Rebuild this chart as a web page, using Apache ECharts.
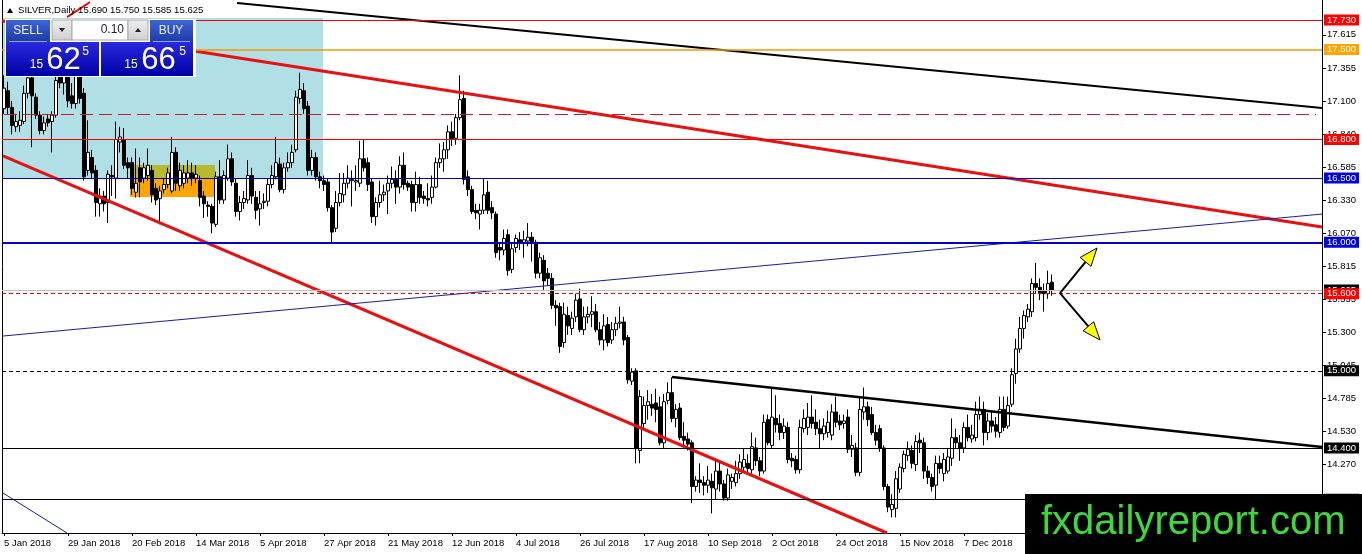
<!DOCTYPE html>
<html>
<head>
<meta charset="utf-8">
<script src="https://cdn.jsdelivr.net/npm/echarts@6/dist/echarts.min.js"></script>
<style>html,body{margin:0;padding:0;background:#fff;}#c{width:1362px;height:554px;}</style>
</head>
<body>
<div id="c"></div>
<script>
// ---------- DATA ----------
const startDate = [2018, 0, 5];
const slotCount = 330;
// daily bars: [open, high, low, close]
const ohlc = [
[17.04,17.30,17.00,17.20],[17.18,17.25,17.00,17.05],[17.05,17.10,16.84,16.91],[16.90,17.00,16.86,16.94],[16.91,17.02,16.86,16.95],
[16.94,17.22,16.92,17.16],[17.16,17.40,17.12,17.28],[17.28,17.38,16.74,17.14],[17.13,17.16,16.96,16.99],[16.99,17.02,16.84,16.87],
[16.87,16.98,16.84,16.93],[16.96,17.00,16.90,16.93],[16.94,17.02,16.70,16.99],[16.99,17.32,16.97,17.26],[17.50,17.72,17.20,17.24],
[17.24,17.48,17.15,17.40],[17.40,17.45,17.05,17.10],[17.14,17.24,17.04,17.08],[17.08,17.38,17.04,17.30],[17.30,17.35,17.08,17.12],
[17.16,17.20,16.48,16.51],[16.56,16.95,16.52,16.70],[16.66,16.72,16.50,16.54],[16.56,16.60,16.20,16.31],[16.30,16.42,16.20,16.36],
[16.36,16.40,16.24,16.30],[16.31,16.56,16.15,16.53],[16.52,16.60,16.36,16.51],[16.50,16.94,16.34,16.80],[16.78,16.90,16.70,16.82],
[16.80,16.89,16.57,16.60],[16.62,16.66,16.50,16.58],[16.62,16.66,16.37,16.42],[16.39,16.73,16.35,16.46],[16.58,16.66,16.35,16.47],
[16.50,16.62,16.46,16.58],[16.52,16.73,16.48,16.60],[16.56,16.60,16.31,16.37],[16.42,16.46,16.29,16.33],[16.34,16.44,16.14,16.40],
[16.41,16.50,16.38,16.45],[16.45,16.58,16.42,16.54],[16.40,16.82,16.38,16.70],[16.70,16.74,16.40,16.46],[16.44,16.62,16.40,16.56],
[16.46,16.60,16.42,16.54],[16.50,16.64,16.46,16.54],[16.54,16.62,16.44,16.50],[16.50,16.60,16.46,16.53],[16.48,16.52,16.28,16.35],
[16.36,16.40,16.19,16.30],[16.29,16.32,16.20,16.28],[16.28,16.30,16.07,16.15],[16.14,16.55,16.12,16.51],[16.51,16.64,16.30,16.33],
[16.33,16.56,16.30,16.52],[16.50,16.76,16.48,16.65],[16.65,16.70,16.44,16.47],[16.46,16.50,16.20,16.24],[16.24,16.36,16.17,16.31],
[16.31,16.40,16.26,16.34],[16.33,16.64,16.30,16.52],[16.52,16.58,16.30,16.36],[16.35,16.40,16.18,16.25],[16.26,16.40,16.13,16.30],
[16.31,16.38,16.26,16.32],[16.32,16.50,16.28,16.45],[16.45,16.60,16.42,16.52],[16.51,16.82,16.49,16.62],[16.61,16.66,16.39,16.41],
[16.41,16.62,16.38,16.58],[16.58,16.70,16.55,16.62],[16.62,16.76,16.58,16.70],[16.72,17.18,16.70,17.13],[17.12,17.32,17.08,17.19],
[17.18,17.24,17.00,17.04],[17.06,17.10,16.52,16.56],[16.56,16.72,16.52,16.66],[16.66,16.70,16.48,16.51],[16.51,16.55,16.42,16.48],
[16.48,16.52,16.40,16.45],[16.47,16.50,16.24,16.27],[16.27,16.29,16.00,16.08],[16.11,16.40,16.08,16.31],[16.31,16.54,16.28,16.38],
[16.37,16.54,16.31,16.46],[16.46,16.60,16.42,16.50],[16.48,16.56,16.28,16.49],[16.47,16.60,16.40,16.48],[16.46,16.79,16.43,16.65],
[16.65,16.80,16.55,16.58],[16.62,16.66,16.40,16.45],[16.47,16.50,16.15,16.20],[16.20,16.35,16.13,16.31],[16.31,16.48,16.27,16.37],
[16.37,16.45,16.32,16.39],[16.40,16.52,16.22,16.46],[16.46,16.59,16.42,16.49],[16.49,16.56,16.30,16.43],[16.43,16.67,16.38,16.60],
[16.60,16.70,16.41,16.45],[16.46,16.48,16.40,16.43],[16.45,16.48,16.24,16.31],[16.31,16.55,16.24,16.45],[16.45,16.51,16.30,16.35],
[16.36,16.40,16.30,16.34],[16.34,16.46,16.28,16.33],[16.35,16.52,16.30,16.43],[16.43,16.66,16.42,16.62],[16.62,16.77,16.58,16.65],
[16.65,16.78,16.55,16.72],[16.72,16.91,16.65,16.86],[16.86,16.94,16.75,16.80],[16.81,17.00,16.76,16.97],[16.97,17.30,16.95,17.11],
[17.12,17.18,16.45,16.49],[16.51,16.56,16.36,16.41],[16.41,16.44,16.22,16.24],[16.25,16.30,16.18,16.23],[16.22,16.30,16.10,16.25],
[16.25,16.50,16.22,16.37],[16.39,16.48,16.22,16.25],[16.27,16.32,16.18,16.23],[16.22,16.24,15.88,15.92],[15.96,16.00,15.86,15.94],
[15.94,16.10,15.90,16.03],[16.06,16.10,15.74,15.78],[15.79,16.00,15.76,15.95],[15.96,16.06,15.92,16.03],[16.02,16.08,15.94,16.00],
[16.00,16.09,15.88,16.02],[16.01,16.15,15.97,16.04],[16.04,16.08,15.85,16.00],[16.00,16.02,15.72,15.76],[15.76,15.92,15.72,15.88],
[15.86,15.90,15.63,15.70],[15.76,15.80,15.66,15.72],[15.72,15.76,15.48,15.51],[15.51,15.55,15.35,15.49],[15.50,15.53,15.14,15.19],
[15.22,15.53,15.18,15.44],[15.43,15.50,15.28,15.35],[15.33,15.46,15.28,15.41],[15.42,15.60,15.38,15.55],[15.56,15.64,15.30,15.32],
[15.32,15.50,15.28,15.42],[15.42,15.50,15.37,15.44],[15.44,15.58,15.34,15.46],[15.46,15.52,15.30,15.32],[15.32,15.38,15.20,15.24],
[15.24,15.44,15.16,15.35],[15.36,15.42,15.19,15.22],[15.24,15.38,15.21,15.32],[15.32,15.42,15.27,15.37],[15.37,15.50,15.33,15.38],
[15.38,15.42,15.20,15.24],[15.26,15.28,14.90,14.93],[14.92,15.02,14.89,14.99],[15.00,15.02,14.28,14.40],[14.38,14.85,14.28,14.80],
[14.59,14.80,14.55,14.73],[14.73,14.85,14.62,14.76],[14.74,14.82,14.65,14.71],[14.75,14.86,14.60,14.70],[14.72,14.80,14.42,14.44],
[14.44,14.82,14.40,14.76],[14.77,14.91,14.74,14.83],[14.83,14.95,14.60,14.63],[14.63,14.74,14.56,14.70],[14.71,14.75,14.46,14.48],
[14.49,14.60,14.42,14.46],[14.47,14.52,14.38,14.43],[14.44,14.46,13.97,14.10],[14.10,14.18,14.06,14.15],[14.15,14.28,14.05,14.13],
[14.13,14.18,14.03,14.11],[14.11,14.26,14.05,14.15],[14.14,14.20,13.89,14.09],[14.08,14.32,14.00,14.22],[14.22,14.30,14.06,14.12],
[14.12,14.15,13.99,14.01],[14.01,14.24,13.99,14.19],[14.14,14.20,14.08,14.17],[14.13,14.30,14.10,14.20],[14.20,14.35,14.16,14.29],
[14.25,14.40,14.22,14.31],[14.28,14.35,14.20,14.24],[14.23,14.52,14.20,14.41],[14.40,14.48,14.26,14.30],[14.30,14.33,14.18,14.22],
[14.22,14.66,14.20,14.60],[14.62,14.66,14.42,14.44],[14.42,14.87,14.40,14.64],[14.63,14.81,14.52,14.58],[14.59,14.66,14.46,14.52],
[14.52,14.63,14.47,14.57],[14.56,14.60,14.28,14.31],[14.32,14.36,14.25,14.30],[14.31,14.34,14.20,14.23],[14.23,14.62,14.20,14.56],
[14.55,14.70,14.52,14.63],[14.56,14.75,14.50,14.64],[14.64,14.81,14.55,14.59],[14.60,14.70,14.50,14.55],[14.55,14.62,14.40,14.51],
[14.51,14.63,14.46,14.57],[14.52,14.69,14.48,14.60],[14.50,14.74,14.46,14.68],[14.68,14.80,14.56,14.60],[14.61,14.66,14.54,14.58],
[14.59,14.66,14.55,14.61],[14.64,14.70,14.36,14.39],[14.39,14.50,14.33,14.42],[14.40,14.44,14.18,14.21],[14.21,14.80,14.18,14.70],
[14.68,14.87,14.62,14.72],[14.72,14.76,14.57,14.62],[14.66,14.72,14.50,14.52],[14.52,14.58,14.42,14.46],[14.55,14.58,14.37,14.40],
[14.40,14.42,14.07,14.10],[14.10,14.12,13.90,13.94],[13.92,14.04,13.86,13.96],[13.93,14.22,13.86,14.16],[14.08,14.28,14.05,14.25],
[14.24,14.38,14.21,14.35],[14.34,14.45,14.30,14.39],[14.38,14.42,14.24,14.28],[14.27,14.50,14.22,14.45],[14.46,14.52,14.36,14.44],
[14.44,14.48,14.16,14.22],[14.22,14.26,14.12,14.17],[14.17,14.20,14.06,14.10],[14.11,14.34,14.00,14.28],[14.28,14.34,14.20,14.24],
[14.20,14.36,14.14,14.31],[14.22,14.40,14.20,14.33],[14.32,14.63,14.26,14.48],[14.48,14.55,14.40,14.44],[14.44,14.50,14.30,14.40],
[14.40,14.60,14.36,14.56],[14.56,14.66,14.45,14.48],[14.47,14.58,14.44,14.50],[14.48,14.76,14.45,14.66],[14.66,14.80,14.62,14.70],
[14.70,14.76,14.42,14.52],[14.52,14.67,14.46,14.61],[14.61,14.68,14.52,14.57],[14.58,14.64,14.48,14.53],[14.52,14.80,14.48,14.70],
[14.70,14.80,14.53,14.56],[14.57,14.80,14.55,14.73],[14.74,15.02,14.72,14.97],[14.98,15.25,14.90,15.17],[15.17,15.42,15.14,15.33],
[15.33,15.47,15.25,15.43],[15.42,15.52,15.38,15.48],[15.46,15.72,15.42,15.68],[15.68,15.84,15.60,15.65],[15.65,15.72,15.55,15.60],
[15.62,15.68,15.46,15.60],[15.60,15.78,15.56,15.68],[15.69,15.75,15.585,15.625]
];
const yTicks = [14.015, 14.270, 14.530, 14.785, 15.045, 15.300, 15.555, 15.815, 16.070, 16.330, 16.585, 16.840, 17.100, 17.355, 17.615];
const yMin = 13.738, yMax = 17.886;
// horizontal levels
const levelPrices = [17.730, 17.500, 16.800, 16.500, 16.000, 15.600, 15.000, 14.400, 14.000];
const dashedLevel = 17.000;
const askPrice = 15.665;
// trend lines [[barIndex, price], [barIndex, price]]
const topBlackLine   = [[58.25, 17.862], [329.5, 17.045]];
const upperRedLine   = [[-0.5, 17.722], [329.5, 16.119]];
const lowerRedLine   = [[-0.25, 16.672], [220.75, 13.738]];
const headerRedLine  = [[15.75, 17.753], [21.5, 17.870]];
const blueRisingLine = [[-0.25, 15.271], [329.5, 16.220]];
const blueCornerLine = [[-0.25, 14.049], [15.75, 13.738]];
const triangleTopLine= [[167, 14.952], [329.5, 14.407]];
// rectangles [x0, priceTop, x1, priceBottom]
const zones = [[-0.25, 17.746, 79.75, 16.500], [31.5, 16.602, 52.75, 16.353], [31.5, 16.602, 52.75, 16.500]];
// arrows [x0, p0, x1, p1]
const arrows = [[264, 15.605, 273.25, 15.956], [264, 15.605, 274, 15.240]];

// ---------- BUILD ----------
const MONTHS = ['Jan','Feb','Mar','Apr','May','Jun','Jul','Aug','Sep','Oct','Nov','Dec'];
const categories = [];
let dt = new Date(Date.UTC(startDate[0], startDate[1], startDate[2]));
while (categories.length < slotCount) {
  const wd = dt.getUTCDay();
  if (wd !== 0 && wd !== 6) categories.push(dt.getUTCDate() + ' ' + MONTHS[dt.getUTCMonth()] + ' ' + dt.getUTCFullYear());
  dt = new Date(dt.getTime() + 86400000);
}
const FONT = 'Liberation Sans';
const last = ohlc[ohlc.length - 1];
const bidPrice = last[3];
const zoneColors = ['#b0e0e6', '#ffa500', '#b6ba2e'];

const levelStyle = [
  {line:{color:'#ff0000', width:1}, bg:'#ff0000'},
  {line:{color:'#f29a00', width:1.6}, bg:'#ffa500'},
  {line:{color:'#ff0000', width:1}, bg:'#ff0000'},
  {line:{color:'#0000c8', width:1}, bg:'#0000e0'},
  {line:{color:'#0000c8', width:2}, bg:'#0000e0'},
  {line:{color:'#ff0000', width:1, type:[4,3]}, bg:'#ff0000'},
  {line:{color:'#000000', width:1, type:[4,3]}, bg:'#000000'},
  {line:{color:'#000000', width:1}, bg:'#000000'},
  {line:{color:'#000000', width:1}, bg:'#000000'}
];
function lab(text, bg) {
  return {show:true, position:'end', distance:2, formatter:text, color:'#fff', backgroundColor:bg,
          fontFamily:FONT, fontSize:9.5, lineHeight:10, padding:[1,3,0,3]};
}
const markData = [];
markData.push({yAxis: bidPrice, lineStyle:{color:'#c0c0c0', width:1, type:'solid'}, label: lab(bidPrice.toFixed(3), '#000')});
levelPrices.forEach((p, i) => {
  markData.push({yAxis: p, lineStyle: Object.assign({type:'solid'}, levelStyle[i].line), label: lab(p.toFixed(3), levelStyle[i].bg)});
});
markData.push([{coord:[0, dashedLevel], lineStyle:{color:'#c42222', width:1, type:[13,6]}, label:{show:false}}, {coord:[328, dashedLevel]}]);

function seg(data, color, width, z) {
  return {type:'line', xAxisIndex:1, yAxisIndex:0, data:data, symbol:'none', showSymbol:false, silent:true, clip:true, z:z,
          lineStyle:{color:color, width:width}, animation:false};
}
function grad(a, b) {
  return new echarts.graphic.LinearGradient(0, 0, 0, 1, [{offset:0, color:a}, {offset:1, color:b}]);
}
function splitQuote(v) {
  const s = v.toFixed(3);
  return [s.slice(0, 2), s.slice(3, 5), s.slice(5)];
}
const bidParts = splitQuote(bidPrice), askParts = splitQuote(askPrice);
const Z = 100;
const graphics = [
  // header
  {type:'polygon', z:Z, shape:{points:[[7,13],[13,13],[10,8]]}, style:{fill:'#000'}},
  {type:'text', z:Z, x:18, y:10, style:{text:'SILVER,Daily ' + last.map(v => v.toFixed(3)).join(' '), fill:'#000', fontFamily:FONT, fontSize:9.6, verticalAlign:'middle'}},
  // trade panel
  {type:'rect', z:Z, shape:{x:5, y:19, width:191, height:58}, style:{fill:'#fff'}},
  {type:'rect', z:Z, shape:{x:6, y:20, width:44, height:22}, style:{fill:grad('#3f63d8', '#1d3aa8')}},
  {type:'line', z:Z, shape:{x1:9, y1:41.5, x2:47, y2:41.5}, style:{stroke:'#8fa4e8', lineWidth:1}},
  {type:'text', z:Z, x:28, y:31, style:{text:'SELL', fill:'#e8eeff', fontFamily:FONT, fontSize:12, align:'center', verticalAlign:'middle'}},
  {type:'rect', z:Z, shape:{x:52, y:20, width:20, height:20}, style:{fill:grad('#eeeeee', '#cfcfcf'), stroke:'#a8a8a8', lineWidth:1}},
  {type:'polygon', z:Z, shape:{points:[[59,28],[65,28],[62,32]]}, style:{fill:'#222'}},
  {type:'rect', z:Z, shape:{x:72, y:20, width:56, height:20}, style:{fill:'#fff', stroke:'#a8a8a8', lineWidth:1}},
  {type:'text', z:Z, x:124, y:30, style:{text:'0.10', fill:'#222', fontFamily:FONT, fontSize:12, align:'right', verticalAlign:'middle'}},
  {type:'rect', z:Z, shape:{x:128, y:20, width:20, height:20}, style:{fill:grad('#eeeeee', '#cfcfcf'), stroke:'#a8a8a8', lineWidth:1}},
  {type:'polygon', z:Z, shape:{points:[[135,32],[141,32],[138,28]]}, style:{fill:'#222'}},
  {type:'rect', z:Z, shape:{x:150, y:20, width:43, height:22}, style:{fill:grad('#3f63d8', '#1d3aa8')}},
  {type:'line', z:Z, shape:{x1:153, y1:41.5, x2:190, y2:41.5}, style:{stroke:'#8fa4e8', lineWidth:1}},
  {type:'text', z:Z, x:171, y:31, style:{text:'BUY', fill:'#e8eeff', fontFamily:FONT, fontSize:12, align:'center', verticalAlign:'middle'}},
  {type:'rect', z:Z, shape:{x:6, y:42, width:93, height:34}, style:{fill:grad('#2a2ade', '#0000a6')}},
  {type:'rect', z:Z, shape:{x:101, y:42, width:92, height:34}, style:{fill:grad('#2a2ade', '#0000a6')}},
  {type:'text', z:Z, x:36.5, y:65, style:{text:bidParts[0], fill:'#fff', fontFamily:FONT, fontSize:12, align:'center', verticalAlign:'middle'}},
  {type:'text', z:Z, x:63.5, y:60, style:{text:bidParts[1], fill:'#fff', fontFamily:FONT, fontSize:31, align:'center', verticalAlign:'middle'}},
  {type:'text', z:Z, x:85.5, y:51.5, style:{text:bidParts[2], fill:'#fff', fontFamily:FONT, fontSize:12, align:'center', verticalAlign:'middle'}},
  {type:'text', z:Z, x:131, y:65, style:{text:askParts[0], fill:'#fff', fontFamily:FONT, fontSize:12, align:'center', verticalAlign:'middle'}},
  {type:'text', z:Z, x:158.5, y:60, style:{text:askParts[1], fill:'#fff', fontFamily:FONT, fontSize:31, align:'center', verticalAlign:'middle'}},
  {type:'text', z:Z, x:182.5, y:51.5, style:{text:askParts[2], fill:'#fff', fontFamily:FONT, fontSize:12, align:'center', verticalAlign:'middle'}},
  // watermark
  {type:'rect', z:Z, shape:{x:1025, y:494, width:337, height:60}, style:{fill:'#000'}},
  {type:'text', z:Z, x:1041, y:523, style:{text:'fxdailyreport.com', fill:'#3ed83a', fontFamily:FONT, fontSize:40, verticalAlign:'middle'}}
];

const chart = echarts.init(document.getElementById('c'), null, {renderer:'canvas'});
chart.setOption({
  animation:false,
  backgroundColor:'#fff',
  grid:{left:2, right:40, top:0, bottom:21, containLabel:false, outerBoundsMode:'none'},
  xAxis:[
    {type:'category', data:categories, boundaryGap:true,
     axisLine:{show:true, onZero:false, lineStyle:{color:'#000', width:1}},
     axisTick:{show:true, interval:15, alignWithLabel:true, length:3, lineStyle:{color:'#000'}},
     axisLabel:{interval:15, align:'left', color:'#000', fontFamily:FONT, fontSize:9.5, margin:5},
     splitLine:{show:false}},
    {type:'value', min:-0.5, max:slotCount - 0.5, show:false, splitLine:{show:false}}
  ],
  yAxis:[
    {type:'value', position:'right', min:yMin, max:yMax,
     axisLine:{show:true, onZero:false, lineStyle:{color:'#000'}},
     axisTick:{show:true, length:4, customValues:yTicks, lineStyle:{color:'#000'}},
     axisLabel:{customValues:yTicks, formatter:v => Number(v).toFixed(3), color:'#000', fontFamily:FONT, fontSize:9.5, margin:5},
     splitLine:{show:false}},
    {type:'value', position:'left', min:yMin, max:yMax,
     axisLine:{show:true, onZero:false, lineStyle:{color:'#000'}},
     axisTick:{show:false}, axisLabel:{show:false}, splitLine:{show:false}}
  ],
  series:[
    {type:'custom', xAxisIndex:1, yAxisIndex:0, z:1, silent:true, clip:true, encode:{x:[0,2], y:[1,3]}, data:zones,
     renderItem:(params, api) => {
       const a = api.coord([api.value(0), api.value(1)]);
       const b = api.coord([api.value(2), api.value(3)]);
       return {type:'rect', shape:{x:Math.min(a[0],b[0]), y:Math.min(a[1],b[1]), width:Math.abs(b[0]-a[0]), height:Math.abs(b[1]-a[1])},
               style:{fill:zoneColors[params.dataIndex]}};
     }},
    {type:'candlestick', xAxisIndex:0, yAxisIndex:0, z:2, barWidth:3, silent:true,
     data: ohlc.map(r => [r[0], r[3], r[2], r[1]]),
     itemStyle:{color:'#ffffff', color0:'#000000', borderColor:'#000000', borderColor0:'#000000', borderColorDoji:'#000000', borderWidth:1},
     markLine:{silent:true, symbol:['none','none'], animation:false, data:markData}},
    seg(topBlackLine, '#000', 2, 3),
    seg(upperRedLine, '#e81010', 3, 3),
    seg(lowerRedLine, '#e81010', 3, 3),
    seg(headerRedLine, '#e81010', 2, 3),
    seg(blueRisingLine, '#1a1aa8', 1, 3),
    seg(blueCornerLine, '#1a1aa8', 1, 3),
    seg(triangleTopLine, '#000', 2.5, 3),
    {type:'custom', xAxisIndex:1, yAxisIndex:0, z:6, silent:true, clip:false, encode:{x:[0,2], y:[1,3]}, data:arrows,
     renderItem:(params, api) => {
       const p0 = api.coord([api.value(0), api.value(1)]);
       const p1 = api.coord([api.value(2), api.value(3)]);
       const dx = p1[0]-p0[0], dy = p1[1]-p0[1], len = Math.hypot(dx, dy);
       const ux = dx/len, uy = dy/len, hl = 18, hw = 7;
       const bx = p1[0]-ux*hl, by = p1[1]-uy*hl;
       return {type:'group', children:[
         {type:'line', shape:{x1:p0[0], y1:p0[1], x2:bx, y2:by}, style:{stroke:'#000', lineWidth:2}},
         {type:'polygon', shape:{points:[[p1[0],p1[1]], [bx-uy*hw, by+ux*hw], [bx+uy*hw, by-ux*hw]]}, style:{fill:'#ffff00', stroke:'#000', lineWidth:1}}
       ]};
     }}
  ],
  graphic: graphics
});
</script>
</body>
</html>
